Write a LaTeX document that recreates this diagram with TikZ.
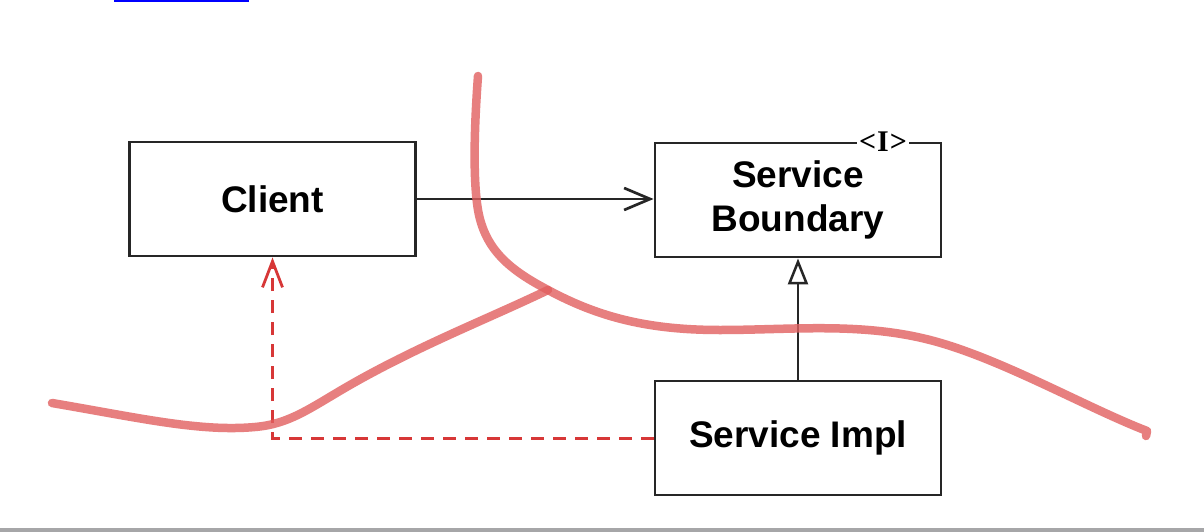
\documentclass[tikz,border=0pt]{standalone}
\usepackage{fontspec}
\setmainfont{Liberation Sans}
\newfontfamily\serifbold{Liberation Serif}
\usetikzlibrary{arrows.meta,calc}
\definecolor{sketchred}{RGB}{225,95,95}
\definecolor{dashred}{RGB}{215,55,55}
\definecolor{linkblue}{RGB}{0,0,255}
\definecolor{bargray}{RGB}{166,166,168}
\begin{document}
\begin{tikzpicture}[x=1pt,y=-1pt,
  umlbox/.style={draw=black!85, line width=2.9pt, fill=none, inner sep=0pt,
    minimum width=286pt, minimum height=114pt,
    font=\bfseries\fontsize{37}{44}\selectfont, align=center},
  assoc/.style={draw=black!85, line width=2.5pt, -{Straight Barb[length=26pt,width=22pt,line width=2.7pt]}},
  realize/.style={draw=black!85, line width=2.5pt, -{Triangle[open,length=26pt,width=20pt,line width=2.5pt,fill=white]}},
  depend/.style={draw=dashred, line width=3pt, dash pattern=on 13pt off 9pt,
    -{Straight Barb[length=26pt,width=20pt,line width=2.8pt]}},
  freehand/.style={draw=sketchred, line width=8.5pt, line cap=round, line join=round, opacity=0.8},
  iface/.style={fill=white, inner xsep=2pt, inner ysep=0pt, font=\serifbold\bfseries\fontsize{30}{30}\selectfont}
]
\useasboundingbox (0,0) rectangle (1204,532);
\fill[white] (0,0) rectangle (1204,532);
% top link underline and bottom bar
\fill[linkblue] (114,0) rectangle (249,2);
\fill[bargray] (0,528) rectangle (1204,532);

% boxes
\node[umlbox] (client) at (272.5,199) {Client};
\node[umlbox] (sb) at (798,200) {Service\\Boundary};
\node[umlbox] (impl) at (798,438) {Service Impl};
\node[iface] (iflabel) at (883,142) {<\kern1pt I\kern1pt>};

% connectors
\draw[assoc] (client.east) -- (sb.west |- client.east);
\draw[realize] (impl.north) -- (sb.south);
\coordinate (corner) at (client.south |- impl.west);
\draw[depend] (impl.west) -- (corner) -- (client.south);

% freehand boundary curves
\coordinate (meet) at (548,290);
\draw[freehand] (478,76) .. controls (474,130) and (473,180) .. (478,210)
  .. controls (485,250) and (510,270) .. (meet)
  .. controls (600,318) and (650,330) .. (720,330)
  .. controls (790,330) and (860,322) .. (930,340)
  .. controls (1000,358) and (1085,407) .. (1147,431)
  -- (1146,436);
\draw[freehand] (52,403) .. controls (140,418) and (200,432) .. (255,427)
  .. controls (290,424) and (310,408) .. (350,385)
  .. controls (420,345) and (490,318) .. (meet);
\end{tikzpicture}
\end{document}
